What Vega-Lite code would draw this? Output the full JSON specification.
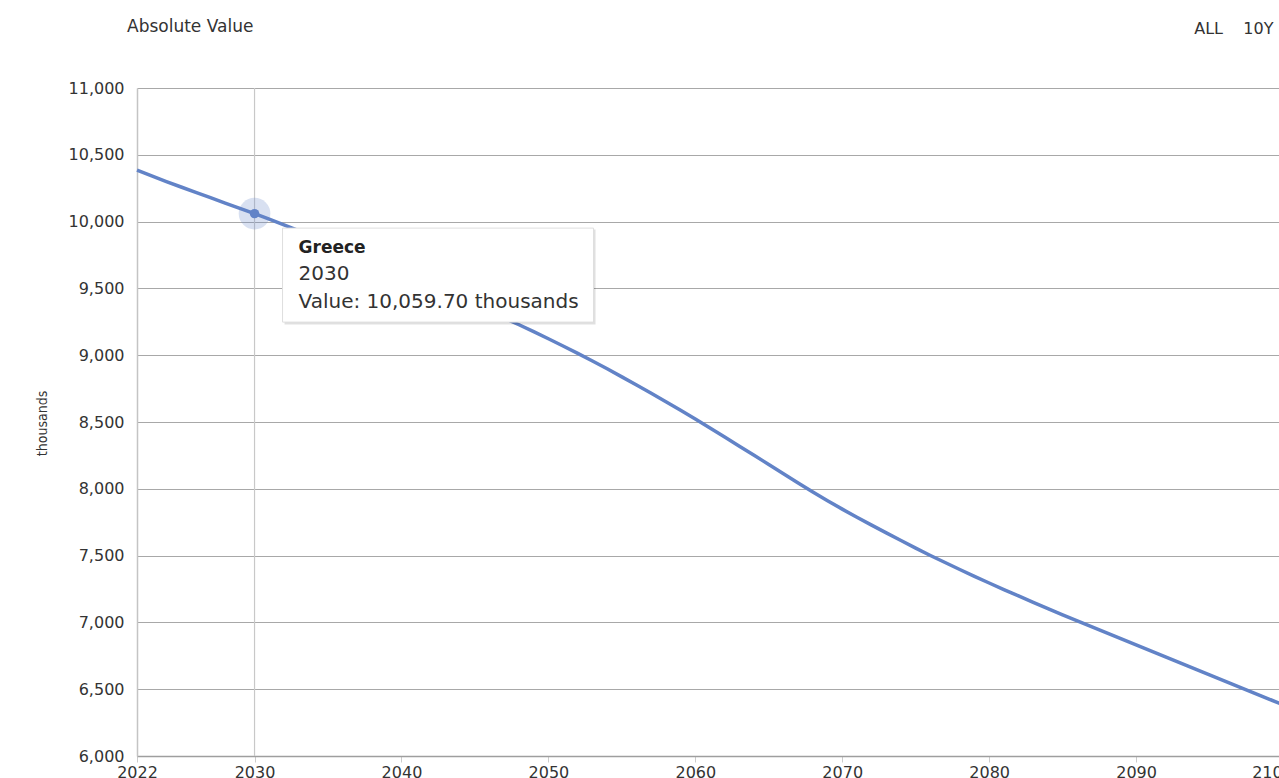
{
  "$schema": "https://vega.github.io/schema/vega-lite/v6.json",
  "width": 1142,
  "height": 668,
  "autosize": {"type": "none"},
  "padding": {"left": 137, "top": 88, "right": 0, "bottom": 22},
  "background": "#ffffff",
  "config": {"view": {"stroke": null}, "font": "DejaVu Sans"},
  "title": {"text": "Absolute Value", "anchor": "start", "frame": "group", "dx": -10, "offset": 0, "dy": 33, "baseline": "bottom", "font": "DejaVu Sans", "fontSize": 17, "fontWeight": "normal", "color": "#333333"},
  "datasets": {
    "series": [
      {"country": "Greece", "year": 2022, "value": 10385},
      {"country": "Greece", "year": 2023, "value": 10342},
      {"country": "Greece", "year": 2024, "value": 10300},
      {"country": "Greece", "year": 2025, "value": 10259},
      {"country": "Greece", "year": 2026, "value": 10219},
      {"country": "Greece", "year": 2027, "value": 10179},
      {"country": "Greece", "year": 2028, "value": 10139},
      {"country": "Greece", "year": 2029, "value": 10099},
      {"country": "Greece", "year": 2030, "value": 10059.7},
      {"country": "Greece", "year": 2031, "value": 10018},
      {"country": "Greece", "year": 2032, "value": 9975},
      {"country": "Greece", "year": 2033, "value": 9932},
      {"country": "Greece", "year": 2034, "value": 9888},
      {"country": "Greece", "year": 2035, "value": 9844},
      {"country": "Greece", "year": 2036, "value": 9799},
      {"country": "Greece", "year": 2037, "value": 9754},
      {"country": "Greece", "year": 2038, "value": 9708},
      {"country": "Greece", "year": 2039, "value": 9662},
      {"country": "Greece", "year": 2040, "value": 9616},
      {"country": "Greece", "year": 2041, "value": 9569},
      {"country": "Greece", "year": 2042, "value": 9522},
      {"country": "Greece", "year": 2043, "value": 9474},
      {"country": "Greece", "year": 2044, "value": 9426},
      {"country": "Greece", "year": 2045, "value": 9377},
      {"country": "Greece", "year": 2046, "value": 9328},
      {"country": "Greece", "year": 2047, "value": 9278},
      {"country": "Greece", "year": 2048, "value": 9228},
      {"country": "Greece", "year": 2049, "value": 9176},
      {"country": "Greece", "year": 2050, "value": 9123},
      {"country": "Greece", "year": 2051, "value": 9069},
      {"country": "Greece", "year": 2052, "value": 9014},
      {"country": "Greece", "year": 2053, "value": 8957},
      {"country": "Greece", "year": 2054, "value": 8898},
      {"country": "Greece", "year": 2055, "value": 8838},
      {"country": "Greece", "year": 2056, "value": 8777},
      {"country": "Greece", "year": 2057, "value": 8715},
      {"country": "Greece", "year": 2058, "value": 8652},
      {"country": "Greece", "year": 2059, "value": 8588},
      {"country": "Greece", "year": 2060, "value": 8522},
      {"country": "Greece", "year": 2061, "value": 8455},
      {"country": "Greece", "year": 2062, "value": 8387},
      {"country": "Greece", "year": 2063, "value": 8319},
      {"country": "Greece", "year": 2064, "value": 8251},
      {"country": "Greece", "year": 2065, "value": 8182},
      {"country": "Greece", "year": 2066, "value": 8113},
      {"country": "Greece", "year": 2067, "value": 8044},
      {"country": "Greece", "year": 2068, "value": 7976},
      {"country": "Greece", "year": 2069, "value": 7911},
      {"country": "Greece", "year": 2070, "value": 7848},
      {"country": "Greece", "year": 2071, "value": 7787},
      {"country": "Greece", "year": 2072, "value": 7728},
      {"country": "Greece", "year": 2073, "value": 7670},
      {"country": "Greece", "year": 2074, "value": 7613},
      {"country": "Greece", "year": 2075, "value": 7556},
      {"country": "Greece", "year": 2076, "value": 7501},
      {"country": "Greece", "year": 2077, "value": 7448},
      {"country": "Greece", "year": 2078, "value": 7396},
      {"country": "Greece", "year": 2079, "value": 7345},
      {"country": "Greece", "year": 2080, "value": 7295},
      {"country": "Greece", "year": 2081, "value": 7246},
      {"country": "Greece", "year": 2082, "value": 7198},
      {"country": "Greece", "year": 2083, "value": 7150},
      {"country": "Greece", "year": 2084, "value": 7103},
      {"country": "Greece", "year": 2085, "value": 7057},
      {"country": "Greece", "year": 2086, "value": 7012},
      {"country": "Greece", "year": 2087, "value": 6967},
      {"country": "Greece", "year": 2088, "value": 6922},
      {"country": "Greece", "year": 2089, "value": 6877},
      {"country": "Greece", "year": 2090, "value": 6832},
      {"country": "Greece", "year": 2091, "value": 6787},
      {"country": "Greece", "year": 2092, "value": 6742},
      {"country": "Greece", "year": 2093, "value": 6697},
      {"country": "Greece", "year": 2094, "value": 6652},
      {"country": "Greece", "year": 2095, "value": 6607},
      {"country": "Greece", "year": 2096, "value": 6562},
      {"country": "Greece", "year": 2097, "value": 6517},
      {"country": "Greece", "year": 2098, "value": 6472},
      {"country": "Greece", "year": 2099, "value": 6428},
      {"country": "Greece", "year": 2100, "value": 6384}
    ],
    "hover": [
      {"country": "Greece", "year": 2030, "value": 10059.7, "yearLabel": "2030", "valueLabel": "Value: 10,059.70 thousands"}
    ]
  },
  "resolve": {"axis": {"x": "independent"}},
  "layer": [
    {
      "data": {"name": "series"},
      "mark": {"type": "line", "color": "#6283c7", "strokeWidth": 3.5},
      "encoding": {
        "x": {
          "field": "year", "type": "quantitative",
          "scale": {"domain": [2022, 2100], "range": [0, 1146], "nice": false, "zero": false},
          "axis": {
            "values": [2022, 2030, 2040, 2050, 2060, 2070, 2080, 2090, 2100],
            "format": "d", "title": null, "grid": false,
            "labelFont": "DejaVu Sans", "labelFontSize": 16, "labelColor": "#333333",
            "labelPadding": 2, "labelFlush": false, "labelOverlap": false,
            "labelOffset": {"condition": {"test": "datum.value === 2100", "value": -11}, "value": 0},
            "tickColor": "#cccccc", "tickSize": 6, "tickWidth": 1,
            "domainColor": "#9e9e9e", "domainWidth": 1.5
          }
        },
        "y": {
          "field": "value", "type": "quantitative",
          "scale": {"domain": [6000, 11000], "nice": false, "zero": false},
          "axis": {
            "values": [6000, 6500, 7000, 7500, 8000, 8500, 9000, 9500, 10000, 10500, 11000],
            "format": ",d", "ticks": false, "labelPadding": 13,
            "labelFont": "DejaVu Sans", "labelFontSize": 16, "labelColor": "#333333",
            "grid": true, "gridColor": "#a8a8a8", "gridWidth": 1.2,
            "domainColor": "#c4c4c4", "domainWidth": 1.5,
            "title": "thousands", "titleFont": "DejaVu Sans Condensed", "titleFontSize": 14,
            "titleFontWeight": "normal", "titleColor": "#333333",
            "titleX": -95, "titleY": 335, "titleBaseline": "middle", "titleAngle": 270
          }
        }
      }
    },
    {
      "data": {"name": "hover"},
      "mark": {"type": "rule", "color": "#c8c8c8", "strokeWidth": 1.2},
      "encoding": {
        "x": {
          "field": "year", "type": "quantitative",
          "axis": {
            "orient": "top", "labels": false, "ticks": false, "domain": false, "grid": false,
            "title": "ALL\u00a0\u00a0\u00a0\u00a010Y", "titleFont": "DejaVu Sans", "titleFontSize": 16, "titleFontWeight": "normal",
            "titleColor": "#333333", "titleAlign": "right", "titleBaseline": "middle",
            "titleX": 1136, "titleY": -60, "titleAngle": 0
          }
        }
      }
    },
    {
      "data": {"name": "hover"},
      "mark": {"type": "point", "filled": true, "size": 1000, "color": "#6283c7", "opacity": 0.25},
      "encoding": {
        "x": {"field": "year", "type": "quantitative", "axis": null},
        "y": {"field": "value", "type": "quantitative"}
      }
    },
    {
      "data": {"name": "hover"},
      "mark": {"type": "point", "filled": true, "size": 90, "color": "#6283c7", "opacity": 1},
      "encoding": {
        "x": {"field": "year", "type": "quantitative", "axis": null},
        "y": {"field": "value", "type": "quantitative"}
      }
    },
    {
      "data": {"name": "hover"},
      "mark": {"type": "point", "filled": true, "size": 4, "shape": "M30,16 H341 V111 H30 Z", "color": "#000000", "opacity": 0.12, "strokeWidth": 0},
      "encoding": {
        "x": {"field": "year", "type": "quantitative", "axis": null},
        "y": {"field": "value", "type": "quantitative"}
      }
    },
    {
      "data": {"name": "hover"},
      "mark": {"type": "point", "filled": false, "size": 4, "shape": "M28,14.5 H339 V108.5 H28 Z", "fill": "#ffffff", "fillOpacity": 1, "stroke": "#dedede", "strokeWidth": 1, "opacity": 1},
      "encoding": {
        "x": {"field": "year", "type": "quantitative", "axis": null},
        "y": {"field": "value", "type": "quantitative"}
      }
    },
    {
      "data": {"name": "hover"},
      "mark": {"type": "text", "align": "left", "baseline": "middle", "dx": 44, "dy": 34, "font": "DejaVu Sans", "fontSize": 17, "fontWeight": "bold", "color": "#222222"},
      "encoding": {
        "x": {"field": "year", "type": "quantitative", "axis": null},
        "y": {"field": "value", "type": "quantitative"},
        "text": {"field": "country"}
      }
    },
    {
      "data": {"name": "hover"},
      "mark": {"type": "text", "align": "left", "baseline": "middle", "dx": 44, "dy": 60, "font": "DejaVu Sans", "fontSize": 20, "color": "#333333"},
      "encoding": {
        "x": {"field": "year", "type": "quantitative", "axis": null},
        "y": {"field": "value", "type": "quantitative"},
        "text": {"field": "yearLabel"}
      }
    },
    {
      "data": {"name": "hover"},
      "mark": {"type": "text", "align": "left", "baseline": "middle", "dx": 44, "dy": 88, "font": "DejaVu Sans", "fontSize": 20, "color": "#333333"},
      "encoding": {
        "x": {"field": "year", "type": "quantitative", "axis": null},
        "y": {"field": "value", "type": "quantitative"},
        "text": {"field": "valueLabel"}
      }
    }
  ]
}
